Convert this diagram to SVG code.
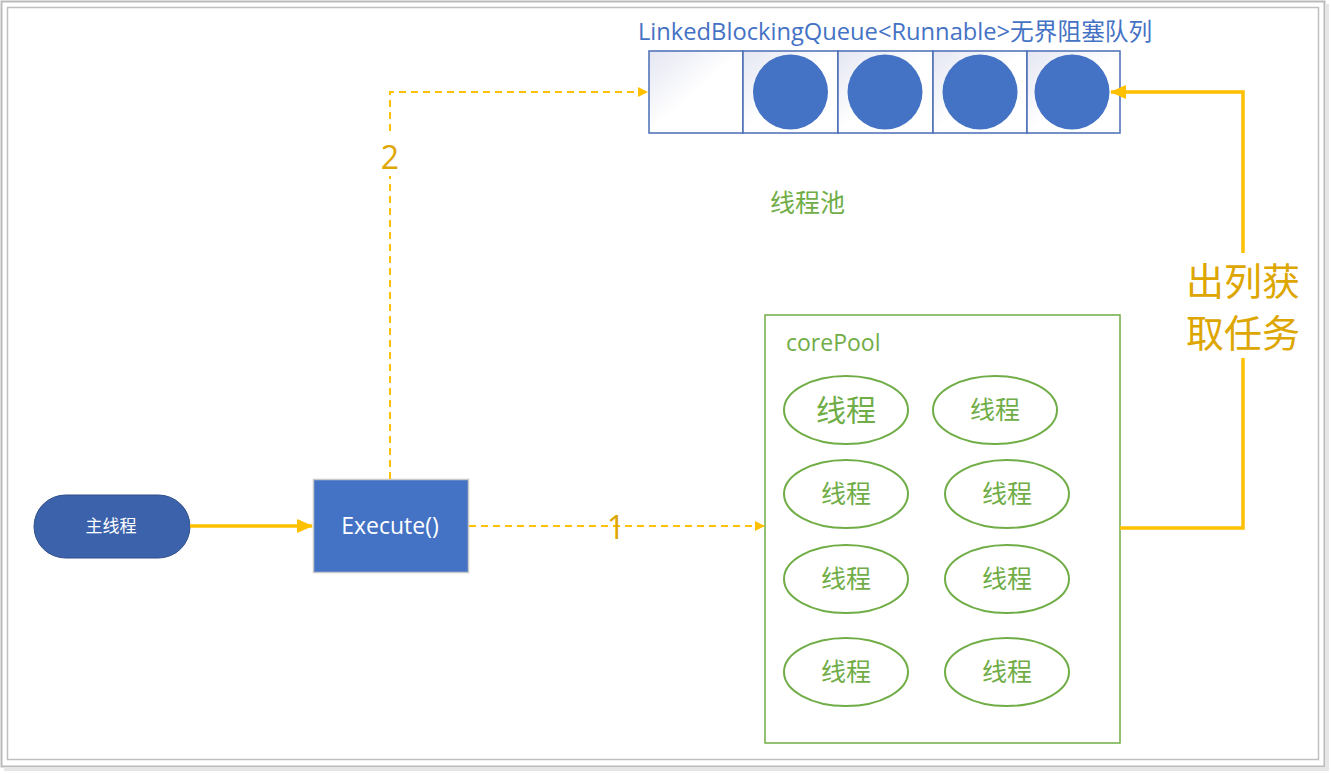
<svg xmlns="http://www.w3.org/2000/svg" width="1331" height="774" viewBox="0 0 1331 774">
<defs>
<linearGradient id="cellg" x1="0" y1="0" x2="1" y2="1">
<stop offset="0" stop-color="#E4E6F2"/>
<stop offset="0.5" stop-color="#FFFFFF"/>
<stop offset="1" stop-color="#FFFFFF"/>
</linearGradient>
<marker id="ah" markerWidth="10" markerHeight="10" refX="9" refY="5" orient="auto" markerUnits="userSpaceOnUse" viewBox="0 0 10 10">
<path d="M0,0 L10,5 L0,10 z" fill="#FFC000"/>
</marker>
<marker id="ahb" markerWidth="16" markerHeight="14" refX="15" refY="7" orient="auto" markerUnits="userSpaceOnUse" viewBox="0 0 16 14">
<path d="M0,0 L16,7 L0,14 z" fill="#FFC000"/>
</marker>
</defs>
<style>
.cn{font-family:"Noto Sans CJK SC","Noto Sans",sans-serif}
.lat{font-family:"Open Sans","Noto Sans CJK SC",sans-serif}
.cell{fill:url(#cellg);stroke:#4A6DB5;stroke-width:1.5}
.dot{fill:#4472C4}
.th{fill:#fff;stroke:#70AD47;stroke-width:2}
.tht{fill:#70AD47;font-size:25px;text-anchor:middle}
.solid{fill:none;stroke:#FFC000;stroke-width:3.5}
.dash{fill:none;stroke:#FFC000;stroke-width:2;stroke-dasharray:7 5}
.lbl{fill:#DDA600}
</style>
<rect x="0" y="0" width="1331" height="774" fill="#fff"/>
<rect x="1.5" y="1.5" width="1323" height="765" fill="none" stroke="#BBBBBB" stroke-width="2"/>
<rect x="1325" y="4" width="4" height="765" fill="#E6E6E6"/>
<rect x="4" y="767" width="1325" height="4" fill="#E6E6E6"/>
<rect x="7.5" y="7.5" width="1311" height="752" fill="none" stroke="#C0C0C0" stroke-width="1.5"/>

<g id="queue">
<text x="638" y="40" class="lat" font-size="23.7" fill="#4472C4">LinkedBlockingQueue&lt;Runnable&gt;无界阻塞队列</text>
<rect class="cell" x="649" y="51" width="94" height="82"/>
<rect class="cell" x="743" y="51" width="95" height="82"/>
<rect class="cell" x="838" y="51" width="95" height="82"/>
<rect class="cell" x="933" y="51" width="94" height="82"/>
<rect class="cell" x="1027" y="51" width="93" height="82"/>
<circle class="dot" cx="790.5" cy="92" r="37.5"/>
<circle class="dot" cx="885" cy="92" r="37.5"/>
<circle class="dot" cx="980" cy="92" r="37.5"/>
<circle class="dot" cx="1072" cy="92" r="37.5"/>
</g>

<g id="pool-label">
<text x="770" y="212" class="cn" font-size="25" fill="#70AD47">线程池</text>
</g>

<g id="corePool">
<rect x="765" y="315" width="355" height="428" fill="#fff" stroke="#70AD47" stroke-width="1.5"/>
<text x="786" y="351" class="lat" font-size="23" fill="#70AD47">corePool</text>
<g id="t1"><ellipse class="th" cx="846" cy="410" rx="62" ry="34"/><text class="cn tht" x="846" y="421" style="font-size:30px">线程</text></g>
<g id="t2"><ellipse class="th" cx="995" cy="410" rx="62" ry="34"/><text class="cn tht" x="995" y="419">线程</text></g>
<g id="t3"><ellipse class="th" cx="846" cy="494" rx="62" ry="34"/><text class="cn tht" x="846" y="503">线程</text></g>
<g id="t4"><ellipse class="th" cx="1007" cy="494" rx="62" ry="34"/><text class="cn tht" x="1007" y="503">线程</text></g>
<g id="t5"><ellipse class="th" cx="846" cy="579" rx="62" ry="34"/><text class="cn tht" x="846" y="588">线程</text></g>
<g id="t6"><ellipse class="th" cx="1007" cy="579" rx="62" ry="34"/><text class="cn tht" x="1007" y="588">线程</text></g>
<g id="t7"><ellipse class="th" cx="846" cy="672" rx="62" ry="34"/><text class="cn tht" x="846" y="681">线程</text></g>
<g id="t8"><ellipse class="th" cx="1007" cy="672" rx="62" ry="34"/><text class="cn tht" x="1007" y="681">线程</text></g>
</g>

<g id="main">
<rect x="34" y="495" width="156" height="63" rx="31.5" fill="#3B62AB" stroke="#2F4F8A" stroke-width="1"/>
<text x="111" y="532" class="cn" font-size="17" fill="#fff" text-anchor="middle">主线程</text>
</g>

<g id="execute">
<rect x="313.5" y="479.5" width="155" height="93" fill="#4472C4" stroke="#C8C8C8" stroke-width="1.5"/>
<text x="390" y="534" class="lat" font-size="23" fill="#fff" text-anchor="middle">Execute()</text>
</g>

<g id="connectors">
<line class="solid" x1="190" y1="526" x2="312" y2="526" marker-end="url(#ahb)"/>
<line class="dash" x1="469" y1="526" x2="764" y2="526" marker-end="url(#ah)"/>
<text x="616" y="539" class="lat lbl" font-size="32" text-anchor="middle">1</text>
<polyline class="dash" points="390,479 390,92 647,92" marker-end="url(#ah)"/>
<rect x="378" y="132" width="24" height="44" fill="#fff"/>
<text x="390" y="169" class="lat lbl" font-size="32" text-anchor="middle">2</text>
<polyline class="solid" points="1120,528 1243,528 1243,358"/>
<polyline class="solid" points="1243,253 1243,92 1111,92" marker-end="url(#ahb)"/>
<text x="1243" y="295" class="cn lbl" font-size="38" text-anchor="middle">出列获</text>
<text x="1243" y="347" class="cn lbl" font-size="38" text-anchor="middle">取任务</text>
</g>
</svg>
